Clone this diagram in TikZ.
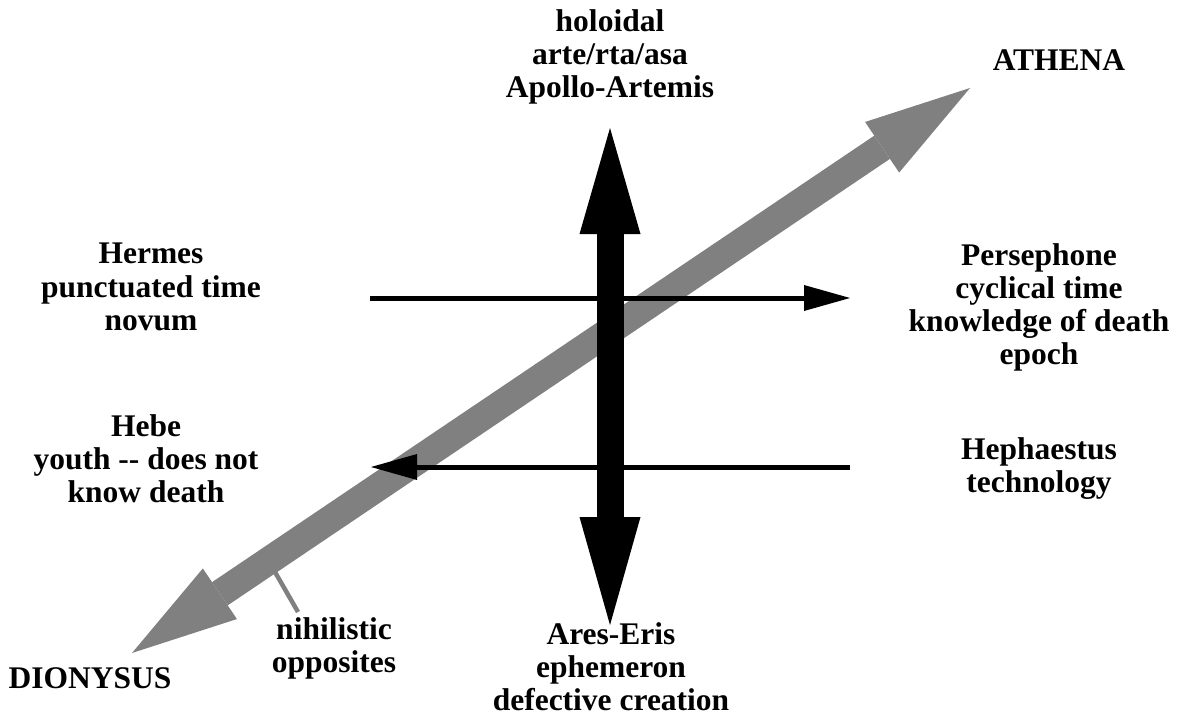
\documentclass[tikz,border=0pt]{standalone}
\usepackage{fontspec}
\setmainfont{Liberation Serif}
\usetikzlibrary{arrows.meta}
\definecolor{axisgray}{RGB}{128,128,128}
\begin{document}
\begin{tikzpicture}[x=1pt,y=-1pt,
  lbl/.style={font=\fontsize{31.5pt}{33.3pt}\selectfont\bfseries, align=center, anchor=north, inner sep=0pt},
  grayaxis/.style={draw=axisgray, line width=28pt, {Triangle[length=106pt,width=61pt,line width=0pt]}-{Triangle[length=106pt,width=61pt,line width=0pt]}},
  blackaxis/.style={draw=black, line width=27pt, {Triangle[length=108pt,width=61pt,line width=0pt]}-{Triangle[length=106pt,width=61pt,line width=0pt]}},
  timearrow/.style={draw=black, line width=5pt, -{Triangle[length=46pt,width=26pt,line width=0pt]}},
  pointer/.style={draw=axisgray, line width=4.5pt}]
\useasboundingbox (0,0) rectangle (1181,718);

% labels
\node[lbl] (apollo) at (610,9) {holoidal\\arte/rta/asa\\Apollo-Artemis};
\node[lbl] (athena) at (1059,50) {ATHENA};
\node[lbl] (hermes) at (151,243) {Hermes\\punctuated time\\novum};
\node[lbl] (persephone) at (1039,243) {Persephone\\cyclical time\\knowledge of death\\epoch};
\node[lbl] (hebe) at (146,414) {Hebe\\youth -\kern0pt- does not\\know death};
\node[lbl] (hephaestus) at (1039,437) {Hephaestus\\technology};
\node[lbl] (nihil) at (334,617) {nihilistic\\opposites};
\node[lbl] (dionysus) at (90,667) {DIONYSUS};
\node[lbl] (ares) at (611,622) {Ares-Eris\\ephemeron\\defective creation};

% axis end points
\coordinate (dtip) at (132,653);
\coordinate (atip) at (970,88);
\coordinate (vtop) at (610,128);
\coordinate (vbot) at (610,625);
\coordinate (h1s) at (370,298);
\coordinate (h1e) at (850,298);
\coordinate (h2s) at (850,467);
\coordinate (h2e) at (371,467);
\coordinate (tick1) at (275,572);
\coordinate (tick2) at (298,612);

% gray diagonal axis
\draw[grayaxis] (dtip) -- (atip);
\draw[pointer] (tick1) -- (tick2);
% black vertical axis
\draw[blackaxis] (vbot) -- (vtop);
% horizontal arrows
\draw[timearrow] (h1s) -- (h1e);
\draw[timearrow] (h2s) -- (h2e);
\end{tikzpicture}
\end{document}
